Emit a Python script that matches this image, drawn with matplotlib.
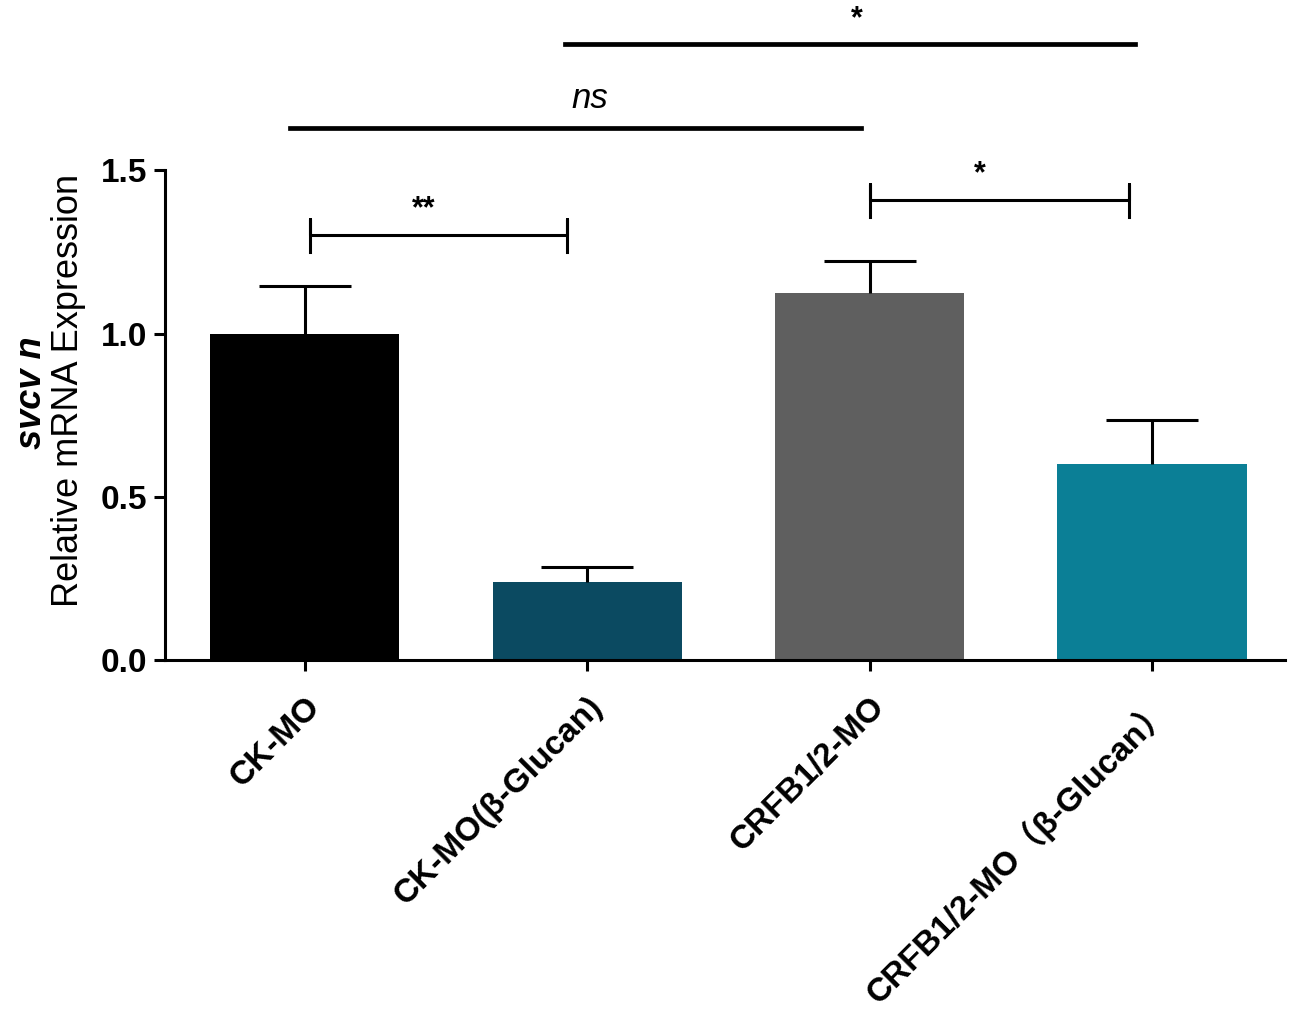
import numpy as np
import matplotlib.pyplot as plt

groups = ['CK-MO', 'CK-MO(β-Glucan)', 'CRFB1/2-MO', 'CRFB1/2-MO（β-Glucan）']
means = [1.0, 0.24, 1.125, 0.60]
sems = [0.145, 0.045, 0.097, 0.135]
colors = ['#000000', '#0b4a61', '#5f5f5f', '#0b7f96']

plt.rcParams['font.family'] = ['Liberation Sans', 'Noto Sans CJK SC', 'DejaVu Sans']

fig = plt.figure(figsize=(12.99, 10.13), dpi=100)
ax = fig.add_axes([0.127, 0.348, 0.862, 0.484])

x = np.arange(len(groups))
ax.bar(x, means, width=0.67, color=colors, zorder=2)
eb = ax.errorbar(x, means, yerr=[np.zeros(len(means)), sems], fmt='none',
                 ecolor='black', elinewidth=2.2, capsize=33, capthick=2.2, zorder=3)
eb[1][0].set_visible(False)  # hide the lower cap

ax.set_xlim(-0.495, 3.47)
ax.set_ylim(0, 1.5)
ax.set_yticks([0.0, 0.5, 1.0, 1.5])
ax.set_yticklabels(['0.0', '0.5', '1.0', '1.5'], fontsize=24, fontweight='bold')
ax.set_xticks(x)
ax.set_xticklabels(groups, rotation=45, ha='right', rotation_mode='anchor',
                   fontsize=24, fontweight='bold')
ax.tick_params(axis='both', width=2.2, length=8)
ax.tick_params(axis='x', pad=14)
ax.tick_params(axis='y', pad=5)
for s in ['top', 'right']:
    ax.spines[s].set_visible(False)
for s in ['left', 'bottom']:
    ax.spines[s].set_linewidth(2.2)

fig.text(0.0525, 0.615, 'Relative mRNA Expression', rotation=90, ha='center',
         va='center', fontsize=26)
fig.text(0.024, 0.612, 'svcv n', rotation=90, ha='center', va='center',
         fontsize=26, fontweight='bold', fontstyle='italic')

# significance brackets
def bracket(x1, x2, y, h, label, lx):
    ax.plot([x1, x1, x1, x2, x2, x2], [y - h, y + h, y, y, y + h, y - h],
            color='black', lw=2.2, clip_on=False)
    ax.text(lx, y + 0.035, label, ha='center', va='bottom',
            fontsize=22, fontweight='bold')

bracket(0.018, 0.93, 1.301, 0.05, '**', 0.42)
bracket(2.0, 2.92, 1.408, 0.05, '*', 2.39)

ax.plot([-0.053, 1.97], [1.628, 1.628], color='black', lw=3.4, clip_on=False)
ax.text(1.008, 1.67, 'ns', ha='center', va='bottom', fontsize=25, fontstyle='italic')
ax.plot([0.92, 2.94], [1.886, 1.886], color='black', lw=3.4, clip_on=False)
ax.text(1.956, 1.915, '*', ha='center', va='bottom', fontsize=22, fontweight='bold')

fig.savefig('out.png', dpi=100)
